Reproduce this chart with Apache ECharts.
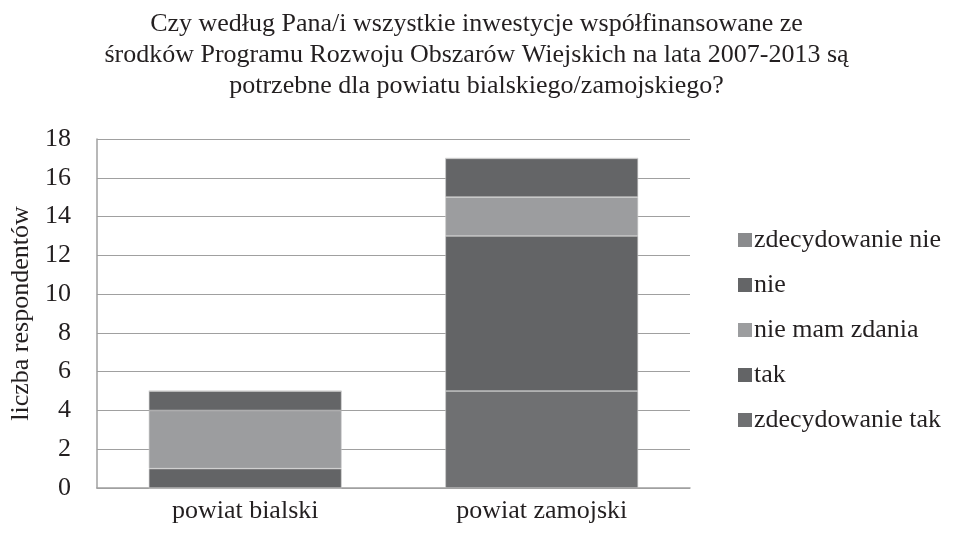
<!DOCTYPE html>
<html lang="pl">
  <head>
    <meta charset="UTF-8" />
    <title>Inwestycje PROW 2007-2013</title>
    <script src="https://cdn.jsdelivr.net/npm/echarts@6.0.0/dist/echarts.min.js"></script>
    <style>
      * {
        padding: 0;
        margin: 0;
      }
      #main {
        width: 953px;
        height: 534px;
        background-color: #ffffff;
      }
    </style>
  </head>
  <body>
    <div id="main"></div>
    <script>
      var categories = ["powiat bialski", "powiat zamojski"];
      var zdecydowanieTak = [0, 5];
      var tak = [1, 8];
      var nieMamZdania = [3, 2];
      var nie = [1, 2];
      var zdecydowanieNie = [0, 0];
      var legendOrder = ["zdecydowanie nie", "nie", "nie mam zdania", "tak", "zdecydowanie tak"];

      var font = "'Liberation Serif', 'Times New Roman', serif";
      var textColor = "#231f20";

      function bar(name, data, color) {
        return {
          name: name,
          type: "bar",
          stack: "total",
          barWidth: "65%",
          data: data,
          itemStyle: {
            color: color,
            borderColor: "#c8c8c8",
            borderWidth: 0.6,
          },
        };
      }

      var myChart = echarts.init(document.getElementById("main"));
      var option = {
        backgroundColor: "#ffffff",
        animation: false,
        title: {
          text:
            "Czy według Pana/i wszystkie inwestycje współfinansowane ze\n" +
            "środków Programu Rozwoju Obszarów Wiejskich na lata 2007-2013 są\n" +
            "potrzebne dla powiatu bialskiego/zamojskiego?",
          left: "center",
          top: 4,
          textStyle: {
            fontFamily: font,
            fontSize: 26,
            fontWeight: "normal",
            color: textColor,
            lineHeight: 31,
          },
        },
        grid: {
          left: 96,
          right: 263,
          top: 139,
          bottom: 46,
        },
        legend: {
          orient: "vertical",
          left: 733,
          top: 220,
          itemWidth: 14,
          itemHeight: 14,
          itemGap: 15,
          icon: "rect",
          data: legendOrder,
          itemStyle: { borderWidth: 0 },
          textStyle: {
            fontFamily: font,
            fontSize: 26,
            color: textColor,
            lineHeight: 30,
            padding: [0, 0, 0, -3],
          },
        },
        xAxis: {
          type: "category",
          data: categories,
          axisLine: { lineStyle: { color: "#a0a0a0", width: 1.5 } },
          axisTick: { show: false },
          axisLabel: {
            fontFamily: font,
            fontSize: 26,
            color: textColor,
            margin: 10,
          },
        },
        yAxis: {
          type: "value",
          min: 0,
          max: 18,
          interval: 2,
          name: "liczba respondentów",
          nameLocation: "middle",
          nameGap: 62,
          nameTextStyle: {
            fontFamily: font,
            fontSize: 26,
            color: textColor,
          },
          axisLine: { show: true, lineStyle: { color: "#a0a0a0", width: 1.5 } },
          axisTick: { show: false },
          axisLabel: {
            fontFamily: font,
            fontSize: 26,
            color: textColor,
            margin: 26,
          },
          splitLine: { lineStyle: { color: "#a0a0a0", width: 1.2 } },
        },
        series: [
          bar("zdecydowanie tak", zdecydowanieTak, "#6f7072"),
          bar("tak", tak, "#636466"),
          bar("nie mam zdania", nieMamZdania, "#9c9d9f"),
          bar("nie", nie, "#646567"),
          bar("zdecydowanie nie", zdecydowanieNie, "#8a8b8d"),
        ],
      };
      myChart.setOption(option);
    </script>
  </body>
</html>
